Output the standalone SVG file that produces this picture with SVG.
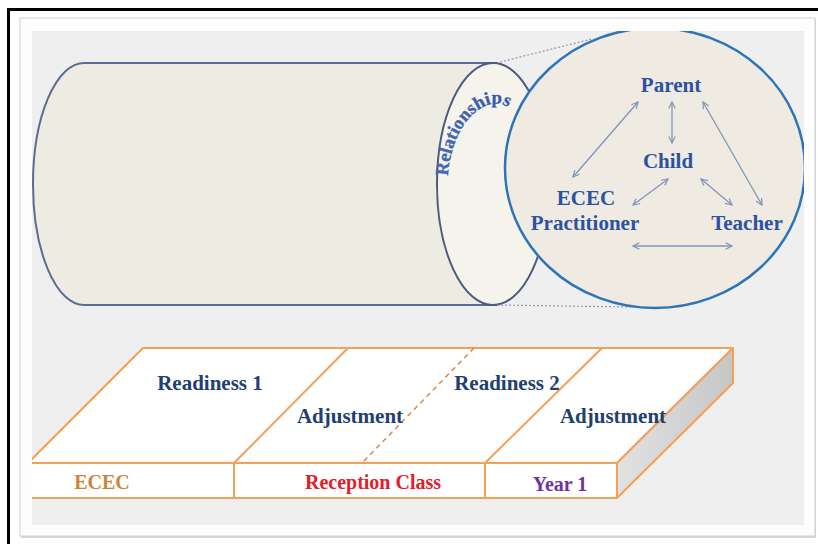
<svg xmlns="http://www.w3.org/2000/svg" width="818" height="544" viewBox="0 0 818 544">
  <style>
    .serif { font-family: "Liberation Serif", "Times New Roman", serif; font-weight: bold; }
    .node { fill: #2d52a0; font-size: 21px; text-anchor: middle; }
    .slabtxt { fill: #22406f; font-size: 21px; text-anchor: middle; }
    .link { stroke: #8196b6; stroke-width: 1.3; fill: none; marker-start: url(#ah); marker-end: url(#ah); }
    .edge { stroke: #f2a05a; stroke-width: 2; fill: none; stroke-linejoin: round; }
    .face { stroke: #f2a05a; stroke-width: 2; fill: #ffffff; stroke-linejoin: round; }
    .dot { stroke: #8c9bb5; stroke-width: 1.2; stroke-dasharray: 2 2; fill: none; }
  </style>
  <defs>
    <marker id="ah" viewBox="0 0 10 10" refX="9" refY="5" markerWidth="8" markerHeight="8" markerUnits="userSpaceOnUse" orient="auto-start-reverse">
      <path d="M1,1 L9,5 L1,9" fill="none" stroke="#8196b6" stroke-width="1.5"/>
    </marker>
    <clipPath id="panelClip">
      <rect x="32" y="31" width="772" height="494"/>
    </clipPath>
    <linearGradient id="sideGrad" x1="0" y1="0" x2="1" y2="0">
      <stop offset="0" stop-color="#e2e2e2"/>
      <stop offset="1" stop-color="#c6c6c6"/>
    </linearGradient>
    <linearGradient id="relGrad" x1="0" y1="0" x2="1" y2="0">
      <stop offset="0" stop-color="#4a6cb6"/>
      <stop offset="1" stop-color="#2f56a8"/>
    </linearGradient>
    <path id="relPath" d="M 448,176 C 452,110 505,80 520,125"/>
  </defs>

  <!-- background / frame -->
  <g id="frame">
    <rect x="0" y="0" width="818" height="544" fill="#ffffff"/>
    <rect x="7" y="8" width="811" height="3" fill="#000000"/>
    <rect x="7" y="8" width="3" height="536" fill="#000000"/>
    <rect x="21" y="19" width="795" height="519" fill="#b0b0b0" opacity="0.5"/>
    <rect x="20" y="18" width="795" height="518" fill="#fdfdfd" stroke="#cfcfcf" stroke-width="1"/>
    <rect x="32" y="31" width="772" height="494" fill="#efefef"/>
  </g>

  <g clip-path="url(#panelClip)">
    <!-- cylinder -->
    <g id="cylinder">
      <path d="M 497,63 L 84,63 A 51 121 0 0 0 84,305 L 497,305" fill="#eeebe3" stroke="#5a6e94" stroke-width="2"/>
      <ellipse cx="493" cy="184" rx="56" ry="121" fill="#f5f3ec" stroke="#4a5b7d" stroke-width="2"/>
      <text class="serif" font-size="18.5" fill="url(#relGrad)" stroke="#2f56a8" stroke-width="0.3"><textPath href="#relPath">Relationships</textPath></text>
    </g>

    <!-- dotted zoom lines -->
    <g id="zoomlines">
      <path class="dot" d="M 500,62 L 592,39"/>
      <path class="dot" d="M 497,305 L 630,307"/>
    </g>

    <!-- magnifier circle -->
    <g id="magnifier">
      <ellipse cx="655" cy="168" rx="150" ry="140" fill="#efebe2" stroke="#2e75b6" stroke-width="2.5"/>
    </g>

    <!-- connectors -->
    <g id="connectors">
      <line class="link" x1="638" y1="102" x2="573" y2="177"/>
      <line class="link" x1="672" y1="102" x2="672" y2="143"/>
      <line class="link" x1="703" y1="102" x2="762" y2="205"/>
      <line class="link" x1="668" y1="179" x2="633" y2="205"/>
      <line class="link" x1="701" y1="179" x2="732" y2="205"/>
      <line class="link" x1="633" y1="246" x2="732" y2="246"/>
    </g>

    <g id="node-parent"><text class="serif node" x="671" y="92">Parent</text></g>
    <g id="node-child"><text class="serif node" x="668" y="168">Child</text></g>
    <g id="node-ecec"><text class="serif node" x="586" y="205">ECEC</text><text class="serif node" x="585" y="230">Practitioner</text></g>
    <g id="node-teacher"><text class="serif node" x="747" y="230">Teacher</text></g>

    <!-- slab -->
    <g id="slab">
      <polygon class="face" points="143,348 733,348 617,463 28,463"/>
      <polygon points="617,463 733,348 733,383 617,498" fill="url(#sideGrad)" stroke="#f2a05a" stroke-width="2" stroke-linejoin="round"/>
      <rect class="face" x="20" y="463" width="597" height="35"/>
      <line class="edge" x1="348" y1="348" x2="234" y2="463"/>
      <line class="edge" x1="602" y1="348" x2="485" y2="463"/>
      <line class="edge" x1="234" y1="463" x2="234" y2="498"/>
      <line class="edge" x1="485" y1="463" x2="485" y2="498"/>
      <line x1="474" y1="348" x2="362" y2="463" stroke="#d88a4a" stroke-width="1.5" stroke-dasharray="5 4"/>
    </g>
    <g id="label-readiness1"><text class="serif slabtxt" x="210" y="390">Readiness 1</text></g>
    <g id="label-adjustment1"><text class="serif slabtxt" x="350" y="423">Adjustment</text></g>
    <g id="label-readiness2"><text class="serif slabtxt" x="507" y="390">Readiness 2</text></g>
    <g id="label-adjustment2"><text class="serif slabtxt" x="613" y="423">Adjustment</text></g>
    <g id="label-ecec"><text class="serif" x="102" y="489" font-size="20" fill="#d0843a" text-anchor="middle">ECEC</text></g>
    <g id="label-reception"><text class="serif" x="373" y="489" font-size="20" fill="#e0202a" text-anchor="middle">Reception Class</text></g>
    <g id="label-year1"><text class="serif" x="560" y="491" font-size="20" fill="#7030a0" text-anchor="middle">Year 1</text></g>
  </g>
</svg>
